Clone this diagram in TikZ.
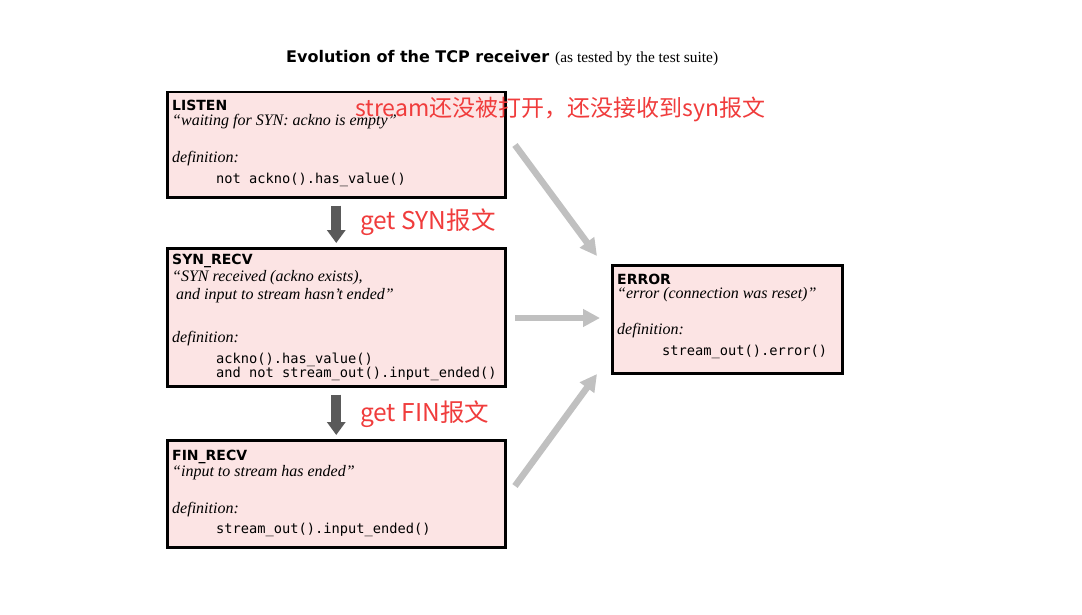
\documentclass[tikz,border=0pt]{standalone}
\usepackage{fontspec}
\setmainfont{Liberation Serif}
\setmonofont{DejaVu Sans Mono}
\newfontfamily\hdfont{DejaVu Sans}
\newfontfamily\cjkfont{Noto Sans CJK SC}
\usetikzlibrary{arrows.meta}
\definecolor{boxfill}{HTML}{FCE4E4}
\definecolor{redtxt}{HTML}{F03C3C}
\definecolor{darkarr}{HTML}{5A5A5A}
\definecolor{lightarr}{HTML}{C0C0C0}
\begin{document}
\begin{tikzpicture}[x=1pt,y=-1pt,
 statebox/.style={draw=black, line width=2.5pt, fill=boxfill, anchor=north west, inner sep=0pt},
 hdr/.style={anchor=base west, inner sep=0pt, font=\hdfont\bfseries\fontsize{14}{16}\selectfont},
 qtext/.style={anchor=base west, inner sep=0pt, font=\itshape\fontsize{16}{18}\selectfont},
 cfont/.style={anchor=base west, inner sep=0pt, font=\ttfamily\fontsize{13.7}{16}\selectfont},
 note/.style={anchor=base west, inner sep=0pt, text=redtxt, font=\cjkfont\fontsize{23}{26}\selectfont},
 notebig/.style={note, font=\cjkfont\fontsize{24.5}{27}\selectfont},
 darrow/.style={draw=darkarr, line width=10pt, -{Triangle[width=18pt,length=13pt]}},
 larrow/.style={draw=lightarr, line width=6.5pt, -{Triangle[width=17pt,length=17pt]}},
]
\useasboundingbox (0,0) rectangle (1082,615);
\fill[white] (0,0) rectangle (1082,615);

% title
\node[anchor=base west, inner sep=0pt, font=\hdfont\bfseries\fontsize{16}{19}\selectfont] (title) at (286,63) {Evolution of the TCP receiver};
\node[anchor=base west, inner sep=0pt, font=\fontsize{15.4}{17}\selectfont] (subtitle) at (555,63) {(as tested by the test suite)};

% boxes
\node[statebox, minimum width=338pt, minimum height=105pt] (listen) at (166,91) {};
\node[statebox, minimum width=338pt, minimum height=138pt] (syn) at (166,247) {};
\node[statebox, minimum width=338pt, minimum height=107pt] (fin) at (166,439) {};
\node[statebox, minimum width=230pt, minimum height=108pt] (err) at (611,264) {};

% LISTEN text
\node[hdr] (l1) at (172,111) {LISTEN};
\node[qtext] (l2) at (172,126) {“waiting for SYN: ackno is empty”};
\node[qtext] (l3) at (172,163) {definition:};
\node[cfont] (l4) at (216,183) {not ackno().has\_value()};

% SYN_RECV text
\node[hdr] (s1) at (172,264) {SYN\_RECV};
\node[qtext] (s2) at (172,281) {“SYN received (ackno exists),};
\node[qtext] (s3) at (176,299) {and input to stream hasn't ended”};
\node[qtext] (s4) at (172,342) {definition:};
\node[cfont] (s5) at (216,363) {ackno().has\_value()};
\node[cfont] (s6) at (216,377) {and not stream\_out().input\_ended()};

% FIN_RECV text
\node[hdr] (f1) at (172,460) {FIN\_RECV};
\node[qtext] (f2) at (172,476) {“input to stream has ended”};
\node[qtext] (f3) at (172,513) {definition:};
\node[cfont] (f4) at (216,533) {stream\_out().input\_ended()};

% ERROR text
\node[hdr] (e1) at (617,284) {ERROR};
\node[qtext] (e2) at (617,298) {“error (connection was reset)”};
\node[qtext] (e3) at (617,334) {definition:};
\node[cfont] (e4) at (662,355) {stream\_out().error()};

% red notes
\node[note] (n1) at (355,117) {stream还没被打开，还没接收到syn报文};
\node[notebig] (n2) at (360,229) {get SYN报文};
\node[notebig] (n3) at (360,421) {get FIN报文};

% dark arrows
\draw[darrow, shorten <=7pt, shorten >=4pt] (listen.south) -- (syn.north);
\draw[darrow, shorten <=7pt, shorten >=4pt] (syn.south) -- (fin.north);

% light arrows
\coordinate (a1s) at (515,145);
\coordinate (a1e) at (597,256);
\coordinate (a2s) at (515,318);
\coordinate (a2e) at (600,318);
\coordinate (a3s) at (515,486);
\coordinate (a3e) at (597,374);
\draw[larrow] (a1s) -- (a1e);
\draw[larrow] (a2s) -- (a2e);
\draw[larrow] (a3s) -- (a3e);
\end{tikzpicture}
\end{document}
